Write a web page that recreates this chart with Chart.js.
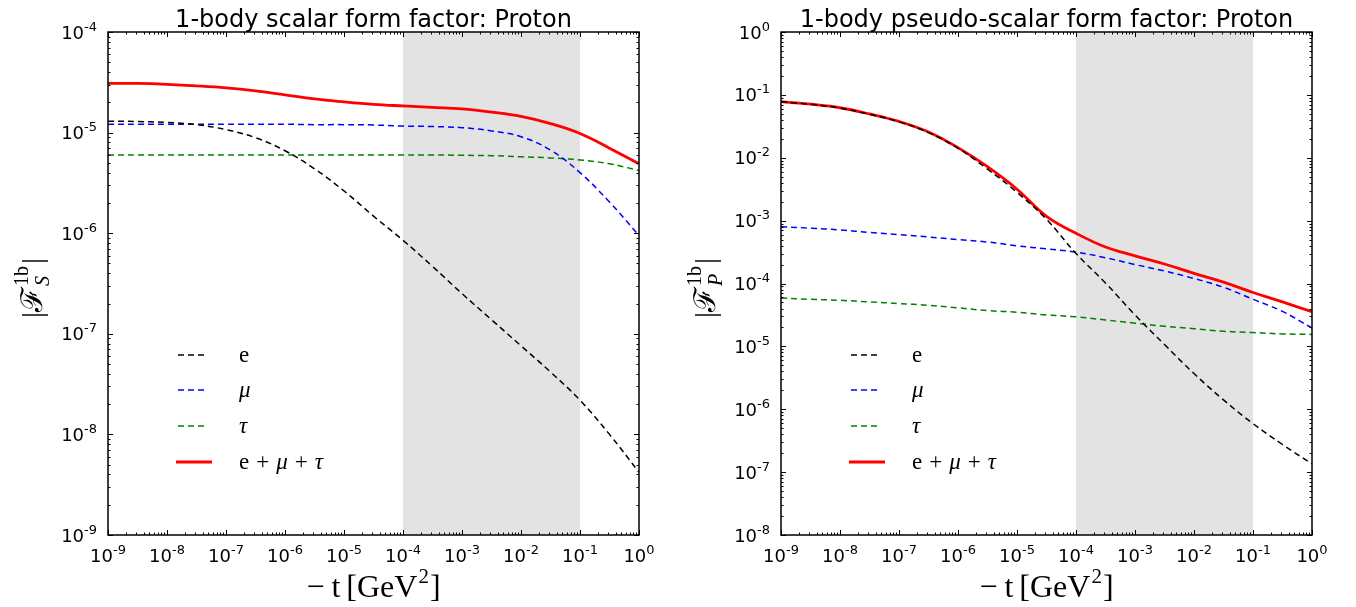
<!DOCTYPE html>
<html>
<head>
<meta charset="utf-8">
<script src="https://cdn.jsdelivr.net/npm/chart.js@4/dist/chart.umd.min.js"></script>
<style>
  body { margin: 0; background: #fff; }
  #wrap { position: relative; width: 1356px; height: 607px; }
  canvas { position: absolute; top: 0; }
</style>
</head>
<body>
<div id="wrap">
  <canvas id="scalarChart" width="678" height="607" style="left:0"></canvas>
  <canvas id="pseudoChart" width="678" height="607" style="left:678px"></canvas>
</div>
<script>
// -t grid (GeV^2), half-decade steps
const tGrid = [1e-9, 3.16e-9, 1e-8, 3.16e-8, 1e-7, 3.16e-7, 1e-6, 3.16e-6, 1e-5, 3.16e-5,
               1e-4, 3.16e-4, 1e-3, 3.16e-3, 1e-2, 3.16e-2, 1e-1, 3.16e-1, 1];

// left panel: scalar form factor
const scalarE   = [1.30e-5, 1.29e-5, 1.26e-5, 1.20e-5, 1.07e-5, 8.9e-6, 6.6e-6, 4.37e-6, 2.63e-6, 1.48e-6,
                   8.5e-7, 4.68e-7, 2.51e-7, 1.38e-7, 7.6e-8, 4.17e-8, 2.19e-8, 1.0e-8, 4.2e-9];
const scalarMu  = [1.21e-5, 1.21e-5, 1.21e-5, 1.21e-5, 1.21e-5, 1.21e-5, 1.21e-5, 1.20e-5, 1.20e-5, 1.19e-5,
                   1.16e-5, 1.15e-5, 1.12e-5, 1.04e-5, 9.1e-6, 6.7e-6, 4.0e-6, 2.04e-6, 9.5e-7];
const scalarTau = [6.0e-6, 6.0e-6, 6.0e-6, 6.0e-6, 6.0e-6, 6.0e-6, 6.0e-6, 6.0e-6, 6.0e-6, 6.0e-6,
                   6.0e-6, 6.0e-6, 5.95e-6, 5.9e-6, 5.75e-6, 5.6e-6, 5.35e-6, 4.9e-6, 4.2e-6];
const scalarSum = [3.09e-5, 3.08e-5, 3.02e-5, 2.92e-5, 2.79e-5, 2.60e-5, 2.37e-5, 2.16e-5, 2.02e-5, 1.91e-5,
                   1.84e-5, 1.78e-5, 1.72e-5, 1.60e-5, 1.45e-5, 1.23e-5, 9.8e-6, 7.0e-6, 4.9e-6];

// right panel: pseudo-scalar form factor
const pseudoE   = [7.76e-2, 7.08e-2, 6.17e-2, 4.90e-2, 3.72e-2, 2.51e-2, 1.41e-2, 6.6e-3, 2.82e-3, 1.05e-3,
                   3.0e-4, 1.02e-4, 3.16e-5, 1.07e-5, 3.7e-6, 1.41e-6, 5.9e-7, 2.75e-7, 1.35e-7];
const pseudoMu  = [8.0e-4, 7.6e-4, 7.1e-4, 6.5e-4, 6.0e-4, 5.5e-4, 5.0e-4, 4.57e-4, 3.98e-4, 3.55e-4,
                   3.16e-4, 2.57e-4, 2.0e-4, 1.58e-4, 1.20e-4, 8.7e-5, 5.6e-5, 3.6e-5, 1.95e-5];
const pseudoTau = [5.9e-5, 5.6e-5, 5.4e-5, 5.1e-5, 4.8e-5, 4.5e-5, 4.1e-5, 3.7e-5, 3.5e-5, 3.16e-5,
                   2.95e-5, 2.63e-5, 2.34e-5, 2.09e-5, 1.91e-5, 1.74e-5, 1.66e-5, 1.58e-5, 1.55e-5];
const pseudoSum = [7.8e-2, 7.1e-2, 6.24e-2, 4.97e-2, 3.78e-2, 2.57e-2, 1.45e-2, 7.2e-3, 3.16e-3, 1.17e-3,
                   6.3e-4, 3.8e-4, 2.75e-4, 2.04e-4, 1.45e-4, 1.05e-4, 7.2e-5, 5.1e-5, 3.55e-5];

const xExps = [-9, -8, -7, -6, -5, -4, -3, -2, -1, 0];
const scalarYExps = [-9, -8, -7, -6, -5, -4];
const pseudoYExps = [-8, -7, -6, -5, -4, -3, -2, -1, 0];
const band = [1e-4, 1e-1];

const SANS = '"DejaVu Sans", sans-serif';
const SERIF = '"Liberation Serif", "DejaVu Serif", serif';

function pts(vals) {
    return tGrid.map((t, i) => ({ x: t, y: vals[i] }));
}

function powLabel(ctx, exp, x, y, align) {
    const base = '10', sup = String(exp);
    ctx.font = '18px ' + SANS;
    const wb = ctx.measureText(base).width;
    ctx.font = '13px ' + SANS;
    const ws = ctx.measureText(sup).width;
    const start = align === 'right' ? x - wb - ws : x - (wb + ws) / 2;
    ctx.textAlign = 'left';
    ctx.textBaseline = 'alphabetic';
    ctx.font = '18px ' + SANS;
    ctx.fillText(base, start, y);
    ctx.font = '13px ' + SANS;
    ctx.fillText(sup, start + wb, y - 8);
}

// draw a row of [text, font, dx, dy, gap] pieces starting at x
function drawPieces(ctx, pieces, x, y) {
    pieces.forEach(p => {
        ctx.font = p[1];
        ctx.fillText(p[0], x + (p[2] || 0), y + (p[3] || 0));
        x += ctx.measureText(p[0]).width + (p[4] || 0);
    });
}

const decor = {
    id: 'decor',
    beforeDatasetsDraw(chart) {
        const { ctx, chartArea: a, scales: { x } } = chart;
        const x0 = x.getPixelForValue(band[0]), x1 = x.getPixelForValue(band[1]);
        ctx.save();
        ctx.fillStyle = '#e3e3e3';
        ctx.fillRect(x0, a.top, x1 - x0, a.bottom - a.top);
        ctx.restore();
    },
    afterDraw(chart, args, o) {
        const { ctx, chartArea: a, scales: { x, y } } = chart;
        ctx.save();
        ctx.strokeStyle = '#000';
        ctx.fillStyle = '#000';

        // inward ticks on all four sides
        ctx.lineWidth = 1;
        ctx.beginPath();
        xExps.forEach(e => {
            for (let m = 1; m <= 9; m++) {
                const v = m * Math.pow(10, e);
                if (v > 1.0001) break;
                const px = Math.round(x.getPixelForValue(v)) + 0.5;
                const len = m === 1 ? 5 : 2.5;
                ctx.moveTo(px, a.bottom); ctx.lineTo(px, a.bottom - len);
                ctx.moveTo(px, a.top); ctx.lineTo(px, a.top + len);
            }
        });
        o.yExps.forEach(e => {
            for (let m = 1; m <= 9; m++) {
                const v = m * Math.pow(10, e);
                if (v > o.yMax * 1.0001) break;
                const py = Math.round(y.getPixelForValue(v)) + 0.5;
                const len = m === 1 ? 5 : 2.5;
                ctx.moveTo(a.left, py); ctx.lineTo(a.left + len, py);
                ctx.moveTo(a.right, py); ctx.lineTo(a.right - len, py);
            }
        });
        ctx.stroke();

        // frame
        ctx.lineWidth = 1.5;
        ctx.strokeRect(a.left, a.top, a.right - a.left, a.bottom - a.top);

        // tick labels
        xExps.forEach(e => powLabel(ctx, e, x.getPixelForValue(Math.pow(10, e)), a.bottom + 27, 'center'));
        o.yExps.forEach(e => powLabel(ctx, e, a.left - 11, y.getPixelForValue(Math.pow(10, e)) + 6.5, 'right'));

        // title
        ctx.font = '24px ' + SANS;
        ctx.textAlign = 'center';
        ctx.textBaseline = 'alphabetic';
        ctx.fillText(o.title, (a.left + a.right) / 2, 27);

        // x axis title
        ctx.textAlign = 'left';
        const big = '32px ' + SERIF;
        const xt = [['\u2212', big, 0, 0, 7], ['t', big, 0, 0, 6], ['[', big], ['GeV', big], ['2', '21px ' + SERIF, 1, -14, 2], [']', big]];
        let w = 0;
        xt.forEach(p => { ctx.font = p[1]; w += ctx.measureText(p[0]).width + (p[4] || 0); });
        drawPieces(ctx, xt, (a.left + a.right) / 2 - w / 2, 597);

        // y axis title, rotated
        ctx.save();
        ctx.translate(a.left - 66, (a.top + a.bottom) / 2 + 4);
        ctx.rotate(-Math.PI / 2);
        const yb = '30px ' + SERIF, ys = '20px ' + SERIF, ysi = 'italic 20px ' + SERIF;
        ctx.font = yb;
        const wBar = ctx.measureText('|').width, wF = ctx.measureText('\u2131').width;
        ctx.font = ys;
        const wSup = ctx.measureText('1b').width;
        ctx.font = ysi;
        const wSub = ctx.measureText(o.sub).width;
        const wStack = Math.max(wSup, wSub) + 2;
        const total = wBar * 2 + wF + wStack + 2;
        let cx = -total / 2;
        ctx.font = yb; ctx.fillText('|', cx, 0); cx += wBar;
        ctx.fillText('\u2131', cx, 0); cx += wF + 1;
        ctx.font = ys; ctx.fillText('1b', cx, -14);
        ctx.font = ysi; ctx.fillText(o.sub, cx, 7);
        cx += wStack;
        ctx.font = yb; ctx.fillText('|', cx, 0);
        ctx.restore();

        // legend inside the axes
        const rows = [355, 390, 426, 462];
        const lx = a.left + 70;
        const f = '23px ' + SERIF, fi = 'italic 23px ' + SERIF;
        const labels = [
            [['e', f]],
            [['\u03bc', fi]],
            [['\u03c4', fi]],
            [['e', f, 0, 0, 7], ['+', f, 0, 0, 7], ['\u03bc', fi, 0, 0, 7], ['+', f, 0, 0, 7], ['\u03c4', fi]]
        ];
        chart.data.datasets.forEach((ds, i) => {
            ctx.save();
            ctx.strokeStyle = ds.borderColor;
            ctx.lineWidth = ds.borderWidth;
            ctx.setLineDash(ds.borderDash || []);
            ctx.beginPath();
            ctx.moveTo(lx - (ds.borderDash ? 0 : 2), rows[i]);
            ctx.lineTo(lx + (ds.borderDash ? 30 : 34), rows[i]);
            ctx.stroke();
            ctx.restore();
            drawPieces(ctx, labels[i], lx + 61, rows[i] + 7);
        });
        ctx.restore();
    }
};

function makeChart(id, series, yMin, yMax, yExps, title, sub, pad) {
    const dashed = [6, 4];
    return new Chart(document.getElementById(id).getContext('2d'), {
        type: 'line',
        data: {
            datasets: [
                { label: 'e', data: pts(series[0]), borderColor: '#000000', borderWidth: 1.5, borderDash: dashed },
                { label: 'mu', data: pts(series[1]), borderColor: '#0000ff', borderWidth: 1.5, borderDash: dashed },
                { label: 'tau', data: pts(series[2]), borderColor: '#008000', borderWidth: 1.5, borderDash: dashed },
                { label: 'e+mu+tau', data: pts(series[3]), borderColor: '#ff0000', borderWidth: 2.8 }
            ].map(d => Object.assign(d, { pointRadius: 0, fill: false, tension: 0.4 }))
        },
        options: {
            responsive: false,
            animation: false,
            layout: { padding: pad },
            scales: {
                x: { type: 'logarithmic', min: 1e-9, max: 1, display: false },
                y: { type: 'logarithmic', min: yMin, max: yMax, display: false }
            },
            plugins: {
                legend: { display: false },
                tooltip: { enabled: false },
                decor: { yExps: yExps, yMax: yMax, title: title, sub: sub }
            }
        },
        plugins: [decor]
    });
}

makeChart('scalarChart', [scalarE, scalarMu, scalarTau, scalarSum], 1e-9, 1e-4, scalarYExps,
    '1-body scalar form factor: Proton', 'S', { left: 108, top: 32, right: 39, bottom: 72 });
makeChart('pseudoChart', [pseudoE, pseudoMu, pseudoTau, pseudoSum], 1e-8, 1, pseudoYExps,
    '1-body pseudo-scalar form factor: Proton', 'P', { left: 103, top: 32, right: 44, bottom: 72 });
</script>
</body>
</html>
